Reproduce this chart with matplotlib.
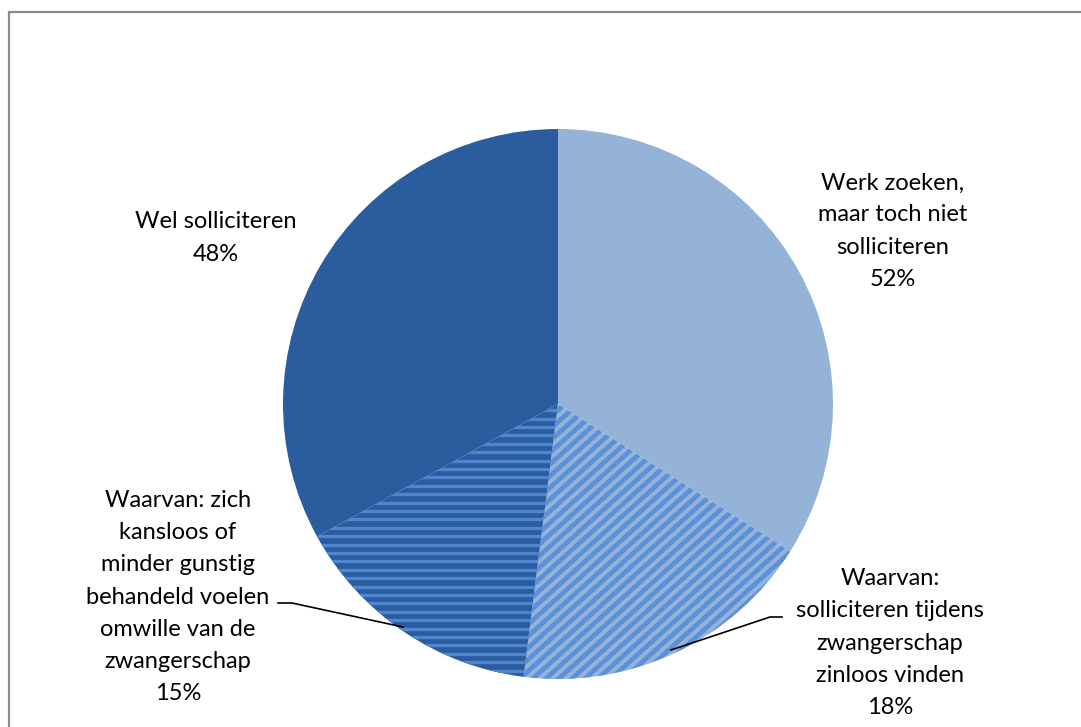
import numpy as np
import matplotlib
matplotlib.use("Agg")
from matplotlib import pyplot as plt
from matplotlib.patches import Rectangle

# shares of respondents (percent)
main_labels = ["Werk zoeken,\nmaar toch niet\nsolliciteren", "Wel solliciteren"]
main_pct = [52, 48]
sub_labels = ["Waarvan:\nsolliciteren tijdens\nzwangerschap\nzinloos vinden",
              "Waarvan: zich\nkansloos of\nminder gunstig\nbehandeld voelen\nomwille van de\nzwangerschap"]
sub_pct = [18, 15]

# pie order clockwise from 12 o'clock
values = [main_pct[0] - sub_pct[0], sub_pct[0], sub_pct[1], main_pct[1] - sub_pct[1]]
base_colors = ["#95B3D7", "#95B3D7", "#2A5C9E", "#2A5C9E"]
stripe_colors = [None, "#5B90DA", "#4F86CF", None]
stripe_kind = [None, "diag", "horiz", None]

W, H = 1081, 727
fig = plt.figure(figsize=(W / 100, H / 100), dpi=100)
ax = fig.add_axes([0, 0, 1, 1])

# chart area border (only left/top visible in the crop)
ax.add_patch(Rectangle((8.5, -20), W + 40, H - 11.5 + 20, fill=False,
                       edgecolor="#8C8C8C", linewidth=1.6))

cx, cy, r = 558, H - 404, 275
wedges, _ = ax.pie(values, startangle=90, counterclock=False, colors=base_colors,
                   center=(cx, cy), radius=r, frame=True,
                   wedgeprops=dict(linewidth=0))
ax.set_xlim(0, W)
ax.set_ylim(0, H)
ax.set_aspect("equal")
ax.axis("off")

# stripes clipped to the hatched wedges
for w, kind, col in zip(wedges, stripe_kind, stripe_colors):
    if kind == "horiz":
        for y in np.arange(cy - r, cy + 4, 8.4):
            ln, = ax.plot([cx - r, cx + 5], [y, y], color=col, lw=2.4, solid_capstyle="butt")
            ln.set_clip_path(w)
    elif kind == "diag":
        for off in np.arange(-3 * r, 3 * r, 13.0):
            ln, = ax.plot([cx - 1.5 * r + off, cx + 1.5 * r + off],
                          [cy - 1.35 * r, cy + 1.35 * r],
                          color=col, lw=3.4, solid_capstyle="butt")
            ln.set_clip_path(w)

font = dict(family="Lato", fontsize=17, ha="center", va="center",
            linespacing=1.65, color="black")
ax.text(893, H - 231, f"{main_labels[0]}\n{main_pct[0]}%", **font)
ax.text(216, H - 238, f"{main_labels[1]}\n{main_pct[1]}%", **font)
ax.text(890, H - 643, f"{sub_labels[0]}\n{sub_pct[0]}%", **font)
ax.text(178, H - 597, f"{sub_labels[1]}\n{sub_pct[1]}%", **font)

# leader lines
ax.plot([278, 292, 403], [H - 603, H - 603, H - 627], color="black", lw=1.2)
ax.plot([671, 770, 782], [H - 650, H - 617, H - 617], color="black", lw=1.2)

fig.savefig("out.png", dpi=100)
